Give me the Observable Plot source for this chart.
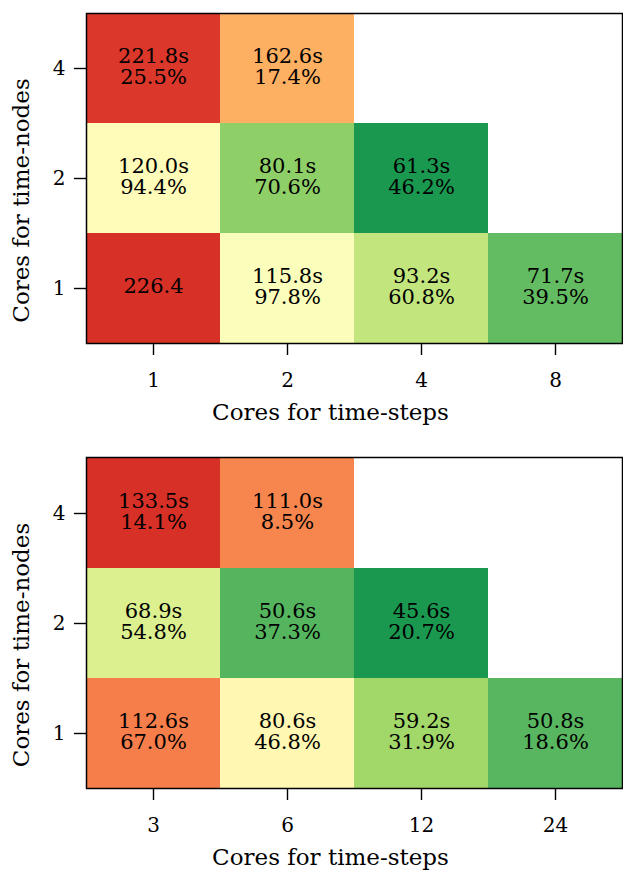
<!DOCTYPE html>
<html>
<head>
<meta charset="utf-8">
<script src="https://cdn.jsdelivr.net/npm/d3@7"></script>
<script src="https://cdn.jsdelivr.net/npm/@observablehq/plot@0.6"></script>
<style>
  html, body { margin: 0; padding: 0; background: white; }
  #chart svg { display: block; }
</style>
</head>
<body>
<div id="chart"></div>
<script>
// ---- Data ----
const rows = ["1", "2", "4"];

const topCols = ["1", "2", "4", "8"];
const topX    = ["1", "2", "1", "2", "4", "1", "2", "4", "8"];
const topY    = ["4", "4", "2", "2", "2", "1", "1", "1", "1"];
const topTime = [221.8, 162.6, 120.0, 80.1, 61.3, 226.4, 115.8, 93.2, 71.7];
const topEff  = [25.5, 17.4, 94.4, 70.6, 46.2, null, 97.8, 60.8, 39.5];

const botCols = ["3", "6", "12", "24"];
const botX    = ["3", "6", "3", "6", "12", "3", "6", "12", "24"];
const botY    = ["4", "4", "2", "2", "2", "1", "1", "1", "1"];
const botTime = [133.5, 111.0, 68.9, 50.6, 45.6, 112.6, 80.6, 59.2, 50.8];
const botEff  = [14.1, 8.5, 54.8, 37.3, 20.7, 67.0, 46.8, 31.9, 18.6];

const xTitle = "Cores for time-steps";
const yTitle = "Cores for time-nodes";

// RdYlGn (reversed), using the 0.1–0.9 part of the ramp
const rdylgn = d3.piecewise(d3.interpolateRgb, d3.schemeRdYlGn[11]);
const interp = t => rdylgn(0.9 - 0.8 * t);

function table(xs, ys, times, effs) {
  return xs.map((x, i) => ({
    x, y: ys[i], time: times[i],
    label: effs[i] == null
      ? times[i].toFixed(1)
      : `${times[i].toFixed(1)}s\n${effs[i].toFixed(1)}%`
  }));
}

function heatmap(cols, data, marginTop, marginBottom) {
  return Plot.plot({
    width: 623,
    height: 435,
    marginLeft: 86,
    marginRight: 1,
    marginTop,
    marginBottom,
    style: { fontFamily: "DejaVu Serif", fontSize: "20px", background: "white", color: "black" },
    x: { type: "band", domain: cols, padding: 0, axis: null },
    y: { type: "band", domain: rows.slice().reverse(), padding: 0, axis: null },
    color: {
      type: "log",
      domain: [d3.min(data, d => d.time), d3.max(data, d => d.time)],
      interpolate: interp
    },
    marks: [
      Plot.cell(data, { x: "x", y: "y", fill: "time" }),
      Plot.text(data, {
        x: "x", y: "y", text: "label", fill: "black", dy: -2,
        fontSize: 21, lineHeight: 1.0, letterSpacing: 0.6
      }),
      Plot.frame({ stroke: "black", strokeWidth: 1.5 }),
      Plot.axisX({ tickSize: 12, tickPadding: 17, fontSize: 20, label: null, strokeWidth: 1.4 }),
      Plot.axisY({ tickSize: 12, tickPadding: 9, fontSize: 20, label: null, strokeWidth: 1.4 }),
      Plot.text([xTitle], {
        frameAnchor: "bottom", lineAnchor: "bottom", dy: 76, dx: -24,
        fontSize: 23, fill: "black"
      }),
      Plot.text([yTitle], {
        frameAnchor: "left", textAnchor: "middle", lineAnchor: "middle",
        rotate: -90, dx: -65, dy: 22,
        fontSize: 23, fill: "black"
      })
    ]
  });
}

const el = document.getElementById("chart");
el.append(heatmap(topCols, table(topX, topY, topTime, topEff), 13, 92));
el.append(heatmap(botCols, table(botX, botY, botTime, botEff), 22, 82));
</script>
</body>
</html>
